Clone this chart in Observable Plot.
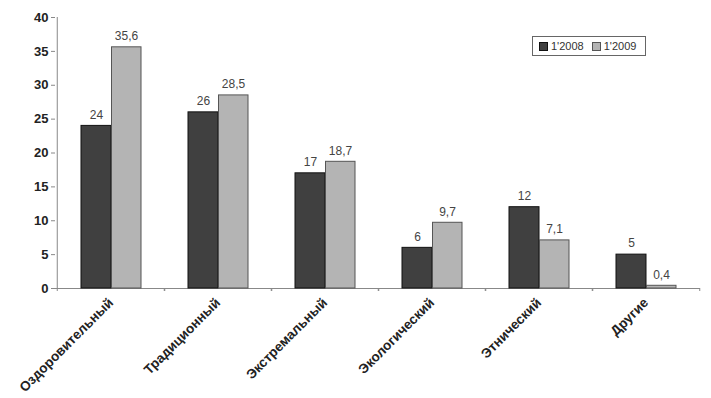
<!DOCTYPE html>
<html><head><meta charset="utf-8">
<script src="https://cdn.jsdelivr.net/npm/d3@7"></script>
<script src="https://cdn.jsdelivr.net/npm/@observablehq/plot@0.6"></script>
<style>
body{margin:0;background:#fff;font-family:"Liberation Sans",Arial,sans-serif;}
#wrap{position:relative;width:711px;height:398px;}
#legend{position:absolute;left:532px;top:36px;width:114px;height:20px;border:1px solid #666;background:#fff;font-size:11px;color:#333;display:flex;align-items:center;gap:8px;padding-left:6px;box-sizing:border-box;}
#legend span.sw{display:inline-block;width:7px;height:7px;border:1px solid #222;margin-right:3px;vertical-align:-1px;}
</style></head>
<body><div id="wrap"><div id="legend"></div></div>
<script>
const categories = ["Оздоровительный","Традиционный","Экстремальный","Экологический","Этнический","Другие"];
const series = ["1'2008","1'2009"];
const values2008 = [24, 26, 17, 6, 12, 5];
const values2009 = [35.6, 28.5, 18.7, 9.7, 7.1, 0.4];
const yTicks = [0,5,10,15,20,25,30,35,40];
const colors = ["#404040","#b4b4b4"];
const strokes = ["#111","#555"];

const data = categories.map((c,i)=>({cat:c, a:values2008[i], b:values2009[i]}));
const fmt = v => String(v).replace(".", ",");
const half = 107.5/2;

const chart = Plot.plot({
  width: 711, height: 398,
  marginLeft: 55, marginRight: 11, marginTop: 17, marginBottom: 110,
  style: {fontFamily: "Liberation Sans, Arial, sans-serif", background: "#fff"},
  x: {domain: categories, padding: 0},
  y: {domain: [0, 40]},
  marks: [
    Plot.ruleX([categories[0]], {dx: -half, y1: 0, y2: 40, stroke: "#888"}),
    Plot.ruleY([0], {stroke: "#888"}),
    Plot.axisY({ticks: yTicks, tickSize: 4, tickPadding: 3, fontSize: 13, fontWeight: "bold", fill: "#222", stroke: "#888", label: null}),
    Plot.axisX({text: null, tickSize: 3, dx: -half, stroke: "#888", label: null}),
    Plot.axisX({text: null, tickSize: 3, dx: half, stroke: "#888", label: null}),
    Plot.axisX({tickSize: 0, tickRotate: -45, tickPadding: 12, fontSize: 13.5, fontWeight: "bold", fill: "#222", label: null}),
    Plot.barY(data, {x: "cat", y: "a", fill: colors[0], stroke: strokes[0], insetLeft: 24, insetRight: 53}),
    Plot.barY(data, {x: "cat", y: "b", fill: colors[1], stroke: strokes[1], insetLeft: 54.5, insetRight: 23}),
    Plot.text(data, {x: "cat", y: "a", text: d => fmt(d.a), dx: -14.5, dy: -11, fontSize: 12, fill: "#444"}),
    Plot.text(data, {x: "cat", y: "b", text: d => fmt(d.b), dx: 15.5, dy: -11, fontSize: 12, fill: "#444"})
  ]
});
document.getElementById("wrap").prepend(chart);
const lg = document.getElementById("legend");
series.forEach((s,i)=>{
  const it = document.createElement("div");
  it.innerHTML = `<span class="sw" style="background:${colors[i]};border-color:${strokes[i]}"></span>${s}`;
  lg.appendChild(it);
});
</script>
</body></html>
